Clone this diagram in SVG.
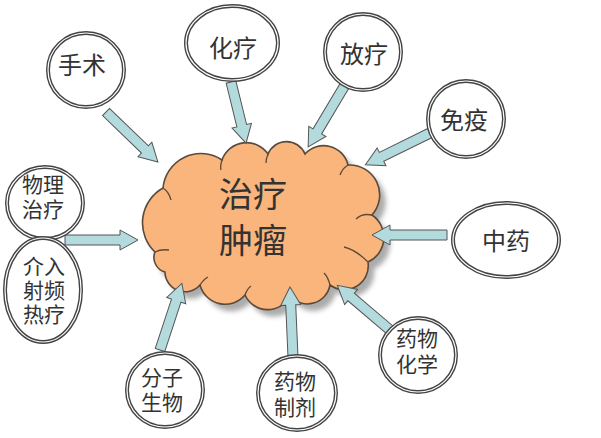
<svg xmlns="http://www.w3.org/2000/svg" width="601" height="438" viewBox="0 0 601 438">
<defs>
<style>
.ring{fill:#fff;stroke:#444;stroke-width:4}
.ringi{fill:none;stroke:#fff;stroke-width:1.2}
.t{font-family:"Liberation Sans","Noto Sans CJK SC",sans-serif;fill:#333;text-anchor:middle}
.n{font-size:24px}
.m{font-size:21px}
.arr{fill:#b3dadd;stroke:#555;stroke-width:1;stroke-linejoin:miter}
.cloud{fill:#f9b57b;stroke:#5a4a3a;stroke-width:1.6}
.crease{fill:none;stroke:#5a4a3a;stroke-width:1.3}
</style>
<filter id="blur" x="-10%" y="-10%" width="120%" height="120%"><feGaussianBlur stdDeviation="2.5"/></filter>
</defs>
<rect width="601" height="438" fill="#fff"/>
<g id="center">
<path d="M155,252 A40,40 0 0 1 163,188 A38,38 0 0 1 222,160 A26,26 0 0 1 268,154 A20,20 0 0 1 305,154 A25,25 0 0 1 348,165 A30,30 0 0 1 372,215 A27,27 0 0 1 368,262 A24,24 0 0 1 330,285 A23,23 0 0 1 290,296 A25,25 0 0 1 245,295 A26,26 0 0 1 200,285 A20,20 0 0 1 165,272 A15,15 0 0 1 155,252 Z" fill="#888" opacity="0.7" transform="translate(6,7)" filter="url(#blur)"/>
<path class="cloud" d="M155,252 A40,40 0 0 1 163,188 A38,38 0 0 1 222,160 A26,26 0 0 1 268,154 A20,20 0 0 1 305,154 A25,25 0 0 1 348,165 A30,30 0 0 1 372,215 A27,27 0 0 1 368,262 A24,24 0 0 1 330,285 A23,23 0 0 1 290,296 A25,25 0 0 1 245,295 A26,26 0 0 1 200,285 A20,20 0 0 1 165,272 A15,15 0 0 1 155,252 Z"/>
<path class="crease" d="M163,188 q6,4 8,12 M222,160 q-2,6 -1,10 M268,154 q-2,5 -2,9 M348,165 q-6,4 -8,10 M372,215 q-10,-2 -16,4 M368,262 q-12,-12 -24,-15 M330,285 q-2,-8 -6,-12 M245,295 q2,-6 6,-9 M200,285 q4,-6 8,-8 M155,252 q6,-3 14,-2"/>
<text class="t" x="253" y="207" font-size="34"><tspan x="253">治疗</tspan><tspan x="253" dy="46">肿瘤</tspan></text>
</g>
<g id="connectors">
<path class="arr" transform="translate(106,112) rotate(43.9)" d="M0,-5 L54,-5 L54,-10 L72,0 L54,10 L54,5 L0,5 Z"/>
<path class="arr" transform="translate(231,82) rotate(76.2)" d="M0,-5 L45,-5 L45,-10 L63,0 L45,10 L45,5 L0,5 Z"/>
<path class="arr" transform="translate(345,85) rotate(120.8)" d="M0,-5 L54,-5 L54,-10 L72,0 L54,10 L54,5 L0,5 Z"/>
<path class="arr" transform="translate(430,133) rotate(153.8)" d="M0,-5 L54,-5 L54,-10 L72,0 L54,10 L54,5 L0,5 Z"/>
<path class="arr" transform="translate(447,235) rotate(180)" d="M0,-5 L57,-5 L57,-10 L75,0 L57,10 L57,5 L0,5 Z"/>
<path class="arr" transform="translate(65,240)" d="M0,-5 L55,-5 L55,-10 L73,0 L55,10 L55,5 L0,5 Z"/>
<path class="arr" transform="translate(160,350) rotate(-71.8)" d="M0,-5 L52,-5 L52,-10 L70,0 L52,10 L52,5 L0,5 Z"/>
<path class="arr" transform="translate(293,357) rotate(-92.5)" d="M0,-5 L52,-5 L52,-10 L70,0 L52,10 L52,5 L0,5 Z"/>
<path class="arr" transform="translate(390,330) rotate(-139.7)" d="M0,-5 L51,-5 L51,-10 L69,0 L51,10 L51,5 L0,5 Z"/>
</g>
<g id="n-shoushu">
<ellipse class="ring" cx="86" cy="70" rx="38" ry="37"/><ellipse class="ringi" cx="86" cy="70" rx="38" ry="37"/>
<text class="t n" x="82" y="74">手术</text>
</g>
<g id="n-hualiao">
<ellipse class="ring" cx="232" cy="43" rx="46" ry="37"/><ellipse class="ringi" cx="232" cy="43" rx="46" ry="37"/>
<text class="t n" x="233" y="57" font-size="26">化疗</text>
</g>
<g id="n-fangliao">
<ellipse class="ring" cx="363" cy="52" rx="38" ry="38"/><ellipse class="ringi" cx="363" cy="52" rx="38" ry="38"/>
<text class="t n" x="364" y="63">放疗</text>
</g>
<g id="n-mianyi">
<ellipse class="ring" cx="466" cy="119" rx="38" ry="38"/><ellipse class="ringi" cx="466" cy="119" rx="38" ry="38"/>
<text class="t n" x="464" y="129">免疫</text>
</g>
<g id="n-zhongyao">
<ellipse class="ring" cx="506" cy="240" rx="53" ry="37"/><ellipse class="ringi" cx="506" cy="240" rx="53" ry="37"/>
<text class="t n" x="506" y="250">中药</text>
</g>
<g id="n-wuli">
<ellipse class="ring" cx="45" cy="203" rx="38" ry="36"/><ellipse class="ringi" cx="45" cy="203" rx="38" ry="36"/>
<text class="t m" x="43" y="192"><tspan x="43">物理</tspan><tspan x="43" dy="25">治疗</tspan></text>
</g>
<g id="n-jieru">
<ellipse class="ring" cx="43" cy="290" rx="38" ry="52"/><ellipse class="ringi" cx="43" cy="290" rx="38" ry="52"/>
<text class="t m" x="44" y="274"><tspan x="44">介入</tspan><tspan x="44" dy="24">射频</tspan><tspan x="44" dy="24">热疗</tspan></text>
</g>
<g id="n-fenzi">
<ellipse class="ring" cx="165" cy="390" rx="38" ry="37"/><ellipse class="ringi" cx="165" cy="390" rx="38" ry="37"/>
<text class="t m" x="162" y="385"><tspan x="162">分子</tspan><tspan x="162" dy="25">生物</tspan></text>
</g>
<g id="n-zhiji">
<ellipse class="ring" cx="297" cy="393" rx="39" ry="37"/><ellipse class="ringi" cx="297" cy="393" rx="39" ry="37"/>
<text class="t m" x="295" y="389"><tspan x="295">药物</tspan><tspan x="295" dy="26">制剂</tspan></text>
</g>
<g id="n-huaxue">
<ellipse class="ring" cx="418" cy="355" rx="38" ry="37"/><ellipse class="ringi" cx="418" cy="355" rx="38" ry="37"/>
<text class="t m" x="417" y="346"><tspan x="417">药物</tspan><tspan x="417" dy="26">化学</tspan></text>
</g>
</svg>
